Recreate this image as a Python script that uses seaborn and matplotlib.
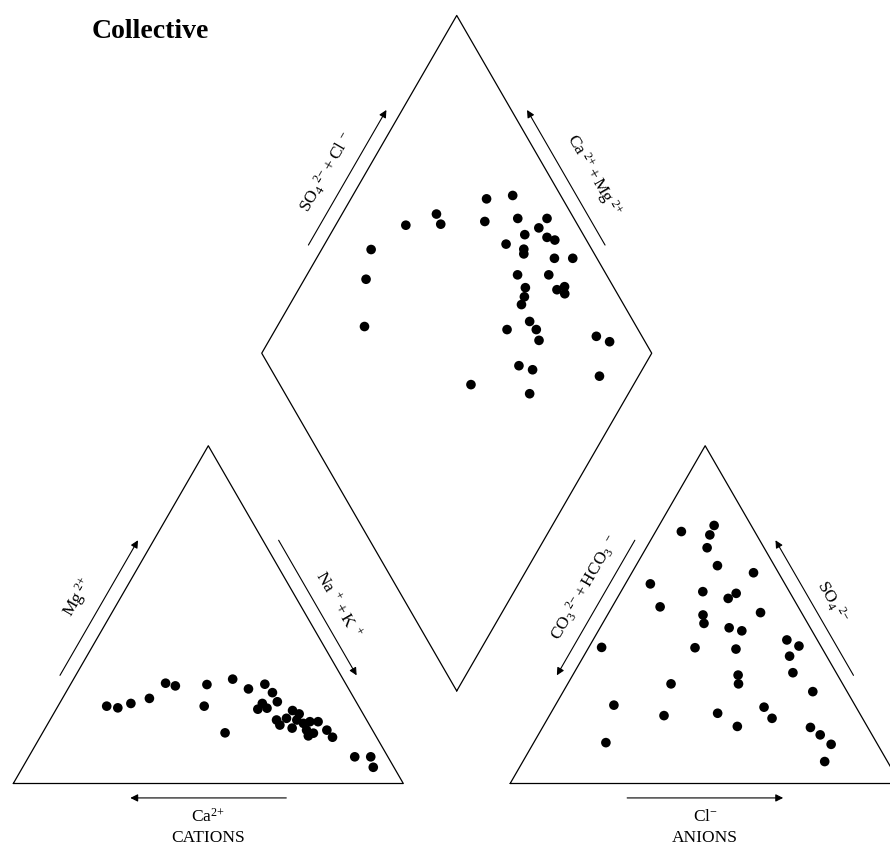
import numpy as np
import pandas as pd
import matplotlib
matplotlib.use("Agg")
import matplotlib.pyplot as plt
import seaborn as sns

# ---- sample chemistry (percent of meq/L) ----
# cations: Mg2+ and Na+ + K+ (Ca2+ is the remainder)
cation_mg = [22.9, 22.4, 23.7, 25.2, 29.7, 28.9, 29.3, 22.9, 30.9, 15.0,
             28.0, 29.4, 26.9, 24.2, 23.7, 22.0, 22.3, 18.8, 17.3, 19.3,
             21.6, 18.8, 17.8, 15.8, 18.3, 14.9, 14.1, 18.3, 15.8, 13.7,
             7.9, 7.9, 4.8, 20.6, 16.4]
cation_nak = [12.5, 15.6, 18.3, 22.3, 24.2, 27.1, 35.0, 37.5, 40.8, 46.8,
              46.3, 49.8, 53.0, 55.6, 52.0, 51.7, 53.9, 58.1, 59.7, 60.4,
              60.8, 63.3, 65.5, 67.3, 66.9, 69.5, 68.6, 69.0, 72.5, 75.0,
              83.6, 87.7, 89.9, 63.0, 63.3]

# anions: SO4 2- and Cl- (CO3 2- + HCO3- is the remainder)
anion_so4 = [74.6, 76.4, 73.6, 69.8, 64.5, 62.4, 59.1, 56.8, 54.8, 56.3,
             52.3, 50.6, 49.9, 47.4, 46.1, 45.2, 40.3, 40.2, 39.8, 42.5,
             40.7, 37.7, 32.8, 32.1, 29.5, 29.5, 27.2, 23.2, 22.6, 19.3,
             20.1, 20.8, 16.9, 16.6, 14.4, 11.6, 12.1, 6.5]
anion_cl = [6.6, 14.1, 14.4, 15.6, 20.9, 31.2, 6.4, 21.0, 28.5, 29.8,
            12.3, 38.9, 24.5, 26.0, 33.1, 36.8, 3.3, 27.3, 38.0, 49.7,
            53.7, 52.8, 56.1, 42.4, 43.8, 26.5, 64.0, 15.0, 53.8, 57.5,
            29.4, 42.8, 49.8, 68.7, 72.3, 76.5, 18.5, 77.4]

# diamond field: SO4 2- + Cl- and Ca2+ + Mg2+
diamond_so4cl = [80.5, 87.7, 76.7, 65.4, 65.0, 55.9, 43.4, 37.7, 30.3, 85.6,
                 93.1, 89.6, 85.0, 90.3, 91.9, 78.8, 82.6, 81.9, 89.1, 93.8,
                 77.2, 85.2, 77.3, 85.1, 87.5, 86.5, 75.7, 73.8, 73.4, 73.9,
                 73.0, 66.4, 88.3, 90.9, 64.1, 67.0, 83.2, 49.0, 62.7]
diamond_camg = [65.2, 59.0, 62.3, 75.8, 73.2, 82.0, 87.3, 84.2, 77.6, 54.3,
                46.8, 47.5, 50.1, 44.0, 41.6, 53.5, 48.2, 47.5, 39.0, 34.3,
                46.0, 38.0, 42.1, 33.7, 32.2, 31.1, 41.0, 40.6, 36.0, 33.1,
                30.8, 40.6, 16.7, 12.5, 32.2, 28.1, 10.0, 41.7, 25.3]

# ---- Piper geometry (triangle side = 100) ----
H = np.sqrt(3) / 2
GAP = 27.4
LEFT_TRI = np.array([[0, 0], [100, 0], [50, 100 * H]])
RIGHT_TRI = LEFT_TRI + [100 + GAP, 0]
D_B = np.array([100 + GAP / 2, GAP * H])
D_L = D_B + [-50, 100 * H]
D_R = D_B + [50, 100 * H]
D_T = D_B + [0, 200 * H]
DIAMOND = np.array([D_B, D_R, D_T, D_L])

cat = pd.DataFrame({"mg": cation_mg, "nak": cation_nak})
cat["x"] = cat["nak"] + cat["mg"] / 2
cat["y"] = cat["mg"] * H

ani = pd.DataFrame({"so4": anion_so4, "cl": anion_cl})
ani["x"] = 100 + GAP + ani["cl"] + ani["so4"] / 2
ani["y"] = ani["so4"] * H

dia = pd.DataFrame({"a": diamond_so4cl, "b": diamond_camg})
dia["x"] = D_B[0] + 0.5 * (dia["a"] - dia["b"])
dia["y"] = D_B[1] + H * (dia["a"] + dia["b"])

sns.set_style("white")
plt.rcParams["font.family"] = ["Liberation Serif", "DejaVu Serif"]
plt.rcParams["text.color"] = "black"
plt.rcParams["mathtext.fontset"] = "custom"
plt.rcParams["mathtext.rm"] = "Liberation Serif"
plt.rcParams["mathtext.it"] = "Liberation Serif:italic"

W, Hpx = 890, 850
fig = plt.figure(figsize=(W / 100, Hpx / 100), dpi=100)
ax = fig.add_axes([0, 0, 1, 1])
scale = 3.9
ox, oy = 13.3, 783.5
ax.set_xlim(-ox / scale, (W - ox) / scale)
ax.set_ylim((oy - Hpx) / scale, oy / scale)
ax.axis("off")

# outlines
for poly in (LEFT_TRI, RIGHT_TRI, DIAMOND):
    closed = np.vstack([poly, poly[:1]])
    ax.plot(closed[:, 0], closed[:, 1], color="black", lw=0.9)

# samples
for df in (cat, ani, dia):
    sns.scatterplot(data=df, x="x", y="y", ax=ax, color="black", s=48,
                    marker="o", edgecolor="none", legend=False)


def edge_frame(p0, p1, centre):
    p0, p1 = np.asarray(p0, float), np.asarray(p1, float)
    d = (p1 - p0) / np.linalg.norm(p1 - p0)
    n = np.array([-d[1], d[0]])
    mid = (p0 + p1) / 2
    if np.dot(n, mid - centre) < 0:
        n = -n
    return p0, p1, n


def edge_pt(p0, p1, n, t, off):
    return p0 + t / 100 * (p1 - p0) + off * n


def side_arrow(p0, p1, centre, t_from, t_to, off=3.5):
    p0, p1, n = edge_frame(p0, p1, centre)
    a = edge_pt(p0, p1, n, t_from, off)
    b = edge_pt(p0, p1, n, t_to, off)
    ax.annotate("", xy=b, xytext=a,
                arrowprops=dict(arrowstyle="-|>", color="black", lw=0.8,
                                mutation_scale=11, shrinkA=0, shrinkB=0))


def side_label(p0, p1, centre, t, off, text, rot, size=12.5):
    p0, p1, n = edge_frame(p0, p1, centre)
    p = edge_pt(p0, p1, n, t, off)
    ax.text(p[0], p[1], text, rotation=rot, rotation_mode="anchor",
            ha="center", va="center", fontsize=size, color="black")


cL = LEFT_TRI.mean(axis=0)
cR = RIGHT_TRI.mean(axis=0)
cD = DIAMOND.mean(axis=0)

# cation triangle
side_arrow(LEFT_TRI[0], LEFT_TRI[2], cL, 30, 70)
side_label(LEFT_TRI[0], LEFT_TRI[2], cL, 49.5, 9.5, r"$\mathrm{Mg^{\ 2{+}}}$", 60)
side_arrow(LEFT_TRI[1], LEFT_TRI[2], cL, 70, 30)
side_label(LEFT_TRI[1], LEFT_TRI[2], cL, 48, 8.5,
           r"$\mathrm{Na^{\ +}+K^{\ +}}$", -60)
side_arrow(LEFT_TRI[0], LEFT_TRI[1], cL, 70, 30, off=3.7)
ax.text(50, -8.6, r"$\mathrm{Ca^{2{+}}}$", ha="center", va="center",
        fontsize=12.5, color="black")
ax.text(50, -14.1, "CATIONS", ha="center", va="center", fontsize=12.5,
        color="black")

# anion triangle
side_arrow(RIGHT_TRI[0], RIGHT_TRI[2], cR, 70, 30)
side_label(RIGHT_TRI[0], RIGHT_TRI[2], cR, 53, 8.6,
           r"$\mathrm{{CO_3}^{\ 2{-}}+{HCO_3}^{\ -}}$", 60)
side_arrow(RIGHT_TRI[1], RIGHT_TRI[2], cR, 30, 70)
side_label(RIGHT_TRI[1], RIGHT_TRI[2], cR, 49, 8.3,
           r"$\mathrm{{SO_4}^{\ 2{-}}}$", -60)
side_arrow(RIGHT_TRI[0], RIGHT_TRI[1], cR, 30, 70, off=3.7)
ax.text(RIGHT_TRI[0, 0] + 50, -8.6, r"$\mathrm{Cl^{-}}$", ha="center",
        va="center", fontsize=12.5, color="black")
ax.text(RIGHT_TRI[0, 0] + 50, -14.1, "ANIONS", ha="center", va="center",
        fontsize=12.5, color="black")

# diamond
side_arrow(D_L, D_T, cD, 30, 70)
side_label(D_L, D_T, cD, 48.5, 8.8,
           r"$\mathrm{{SO_4}^{\ 2{-}}+Cl^{\ -}}$", 60)
side_arrow(D_R, D_T, cD, 30, 70)
side_label(D_R, D_T, cD, 47, 10,
           r"$\mathrm{Ca^{\ 2{+}}+Mg^{\ 2{+}}}$", -60)

fig.text(150 / W, 1 - 32 / Hpx, "Collective", ha="center", va="center",
         fontsize=20, fontweight="bold", family="Liberation Serif",
         color="black")

fig.savefig("out.png", dpi=100, facecolor="white")
